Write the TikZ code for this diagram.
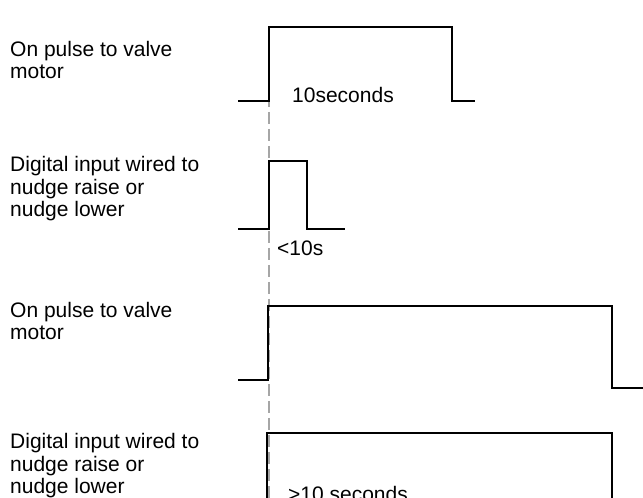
\documentclass[tikz,border=0pt]{standalone}
\usepackage{fontspec}
\setmainfont{Liberation Sans}
\begin{document}
\begin{tikzpicture}[x=1pt,y=1pt,
  lbl/.style={inner sep=0pt,anchor=base west,align=left,font=\fontsize{21}{22.5}\selectfont},
  wave/.style={line width=1.6pt,black,line join=miter},
  guide/.style={line width=1.5pt,gray!70,dash pattern=on 12pt off 5pt}]
\useasboundingbox (0,0) rectangle (643,498);
\clip (0,0) rectangle (643,498);
% guide line
\coordinate (gtop) at (269,471);
\coordinate (gbot) at (269,0);
\draw[guide] (gtop) -- (gbot);
% waveform 1
\draw[wave] (238,397) -- (269,397) -- (269,471) -- (452,471) -- (452,397) -- (475,397);
% waveform 2
\draw[wave] (238,269) -- (269,269) -- (269,337) -- (307,337) -- (307,269) -- (345,269);
% waveform 3
\draw[wave] (238,118) -- (268,118) -- (268,192) -- (612,192) -- (612,110) -- (643,110);
% waveform 4
\draw[wave] (267,-3) -- (267,65) -- (612,65) -- (612,-3);
% labels (base anchor = baseline of last line)
\node[lbl] (l1) at (10,419) {On pulse to valve\\motor};
\node[lbl] (l2) at (10,281) {Digital input wired to\\nudge raise or\\nudge lower};
\node[lbl] (l3) at (10,158) {On pulse to valve\\motor};
\node[lbl] (l4) at (10,4) {Digital input wired to\\nudge raise or\\nudge lower};
\node[lbl] (t1) at (292,395) {10seconds};
\node[lbl] (t2) at (277,242) {<10s};
\node[lbl] (t3) at (288,-4) {>10 seconds};
\end{tikzpicture}
\end{document}
